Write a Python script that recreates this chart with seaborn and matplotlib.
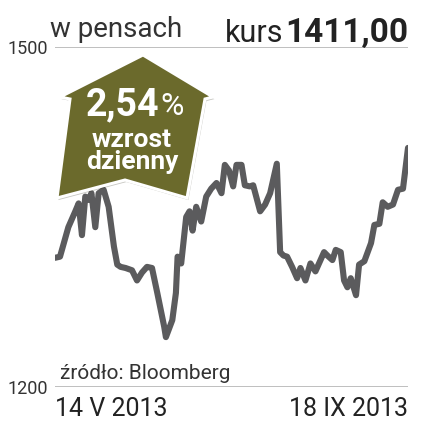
import matplotlib
matplotlib.use("Agg")
import matplotlib.pyplot as plt
import matplotlib.transforms as mtransforms
from matplotlib.patches import Polygon
from matplotlib import patheffects
import pandas as pd
import seaborn as sns

# dni od 14 V 2013 i kurs w pensach
dni = [0, 1.8, 4.8, 7.3, 8.5, 9.7, 10.9, 12.1, 13.1, 14.5, 15.7, 17.5, 19.3, 21.2,
       22.4, 23.6, 25.4, 27.7, 29.5, 31.3, 33.1, 34.9, 36.8, 39.3, 39.9, 42.2,
       43.5, 44.1, 45.4, 47.2, 48.4, 49.5, 50.8, 52.6, 54.4, 56.2, 58.1, 59.9,
       61.1, 62.6, 64.1, 65.3, 67.1, 68.3, 70.1, 71.3, 73.8, 75.6, 77.4, 79.8,
       81.0, 82.2, 83.5, 85.3, 87.1, 88.3, 90.1, 91.9, 93.7, 96.8, 98.0, 99.8,
       101.0, 102.8, 104.0, 105.2, 106.4, 108.3, 109.4, 111.3, 113.7, 114.9,
       116.7, 117.9, 119.7, 121.6, 123.4, 125.2, 127]
kurs = [1314, 1315, 1341, 1355, 1362, 1334, 1368, 1365, 1371, 1341, 1371, 1374,
        1359, 1324, 1308, 1306, 1305, 1303, 1294, 1301, 1306, 1305, 1283, 1253,
        1244, 1259, 1283, 1315, 1309, 1350, 1355, 1338, 1359, 1346, 1368, 1375,
        1380, 1371, 1396, 1391, 1377, 1396, 1396, 1378, 1377, 1378, 1355, 1361,
        1371, 1397, 1319, 1316, 1315, 1306, 1296, 1305, 1294, 1309, 1302, 1319,
        1316, 1312, 1321, 1319, 1294, 1288, 1296, 1281, 1308, 1311, 1327, 1343,
        1344, 1363, 1359, 1361, 1374, 1375, 1411]
y_ticks = [1200, 1500]
x_tick_labels = ["14 V 2013", "18 IX 2013"]

df = pd.DataFrame({"dzien": dni, "kurs": kurs})

sns.set_style("white")
plt.rcParams["font.family"] = ["Roboto", "DejaVu Sans"]

W, H = 441, 429
fig = plt.figure(figsize=(W / 100, H / 100), dpi=100)
ax = fig.add_axes([55 / W, 1 - 387 / H, (408 - 55) / W, (387 - 47) / H])

sns.lineplot(data=df, x="dzien", y="kurs", ax=ax, color="#5b5b5d", linewidth=4.4,
             solid_capstyle="round", solid_joinstyle="round")
ax.axhline(1500, color="#b4b4b4", lw=1.2, zorder=0)
ax.axhline(1200, color="#b4b4b4", lw=1.2, zorder=0)
ax.set_xlim(dni[0], dni[-1])
ax.set_ylim(1200, 1500)
for s in ax.spines.values():
    s.set_visible(False)
ax.set_xlabel("")
ax.set_ylabel("")
ax.set_yticks(y_ticks)
ax.set_yticklabels([str(v) for v in y_ticks], fontsize=13, color="#333333")
ax.tick_params(axis="y", length=0, pad=5)
ax.set_xticks([dni[0], dni[-1]])
ax.set_xticklabels(x_tick_labels, fontsize=18, color="#222222")
ax.tick_params(axis="x", length=0, pad=7)
xl = ax.get_xticklabels()
xl[0].set_ha("left")
xl[1].set_ha("right")

# wspolrzedne w pikselach od gory
px = mtransforms.Affine2D().scale(1 / W, -1 / H).translate(0, 1) + fig.transFigure

fig.text(50, 37, "w pensach", transform=px, fontsize=20,
         color="#333333", va="baseline")
fig.text(408, 42, "1411,00", transform=px, fontsize=24, fontweight="bold",
         color="#222222", ha="right", va="baseline")
fig.text(283, 42, "kurs", transform=px, fontsize=22, color="#222222",
         ha="right", va="baseline")
fig.text(60, 379, "źródło: Bloomberg", transform=px, fontsize=15,
         color="#333333", va="baseline")

# strzalka z procentem
pts = [(143, 55), (213, 97), (205, 99), (187, 198), (125, 180), (57, 198),
       (70, 99), (60, 97)]
badge = Polygon(pts, closed=True, transform=px, facecolor="#6b6a2c",
                edgecolor="white", linewidth=2.2, zorder=10,
                path_effects=[patheffects.SimplePatchShadow(offset=(1, -1.5), alpha=0.25),
                              patheffects.Normal()])
fig.patches.append(badge)
fig.text(159, 115, "2,54", transform=px, fontsize=27, fontweight="bold", color="white",
         ha="right", va="baseline", zorder=11)
fig.text(160, 115, "%", transform=px, fontsize=23, color="white",
         ha="left", va="baseline", zorder=11)
fig.text(132, 169, "wzrost\ndzienny", transform=px, fontsize=19, fontweight="bold",
         color="white", ha="center", va="baseline", multialignment="center",
         linespacing=0.92, zorder=11)

fig.savefig("out.png", dpi=100, facecolor="white")
